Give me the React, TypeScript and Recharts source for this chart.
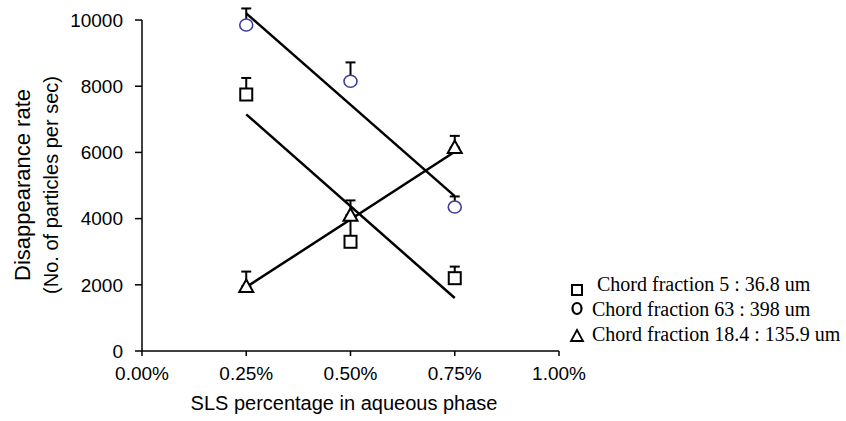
import {
  ComposedChart,
  Scatter,
  XAxis,
  YAxis,
  ErrorBar,
  ReferenceLine,
  Legend,
} from "recharts";

// SLS percentage in aqueous phase (%)
const sls = [0.25, 0.5, 0.75];

// Disappearance rate
const chord5 = [7750, 3300, 2200];
const chord5Err = [500, 700, 350];
const chord63 = [9850, 8150, 4350];
const chord63Err = [500, 570, 320];
const chord18 = [1950, 4100, 6150];
const chord18Err = [450, 450, 350];

// fitted trend lines, end points
const trendX = [0.25, 0.75];
const trend5 = [7150, 1600];
const trend63 = [10200, 4680];
const trend18 = [1930, 6020];

const xTicks = [0, 0.25, 0.5, 0.75, 1];
const yTicks = [0, 2000, 4000, 6000, 8000, 10000];

const legendNames = [
  "Chord fraction 5 : 36.8 um",
  "Chord fraction 63 : 398 um",
  "Chord fraction 18.4 : 135.9 um",
];

const BLUE = "#3d3d9e";
const SANS = "'Liberation Sans', Arial, sans-serif";
const SERIF = "'Liberation Serif', 'Times New Roman', serif";

const points = (ys: number[], errs: number[]) =>
  sls.map((x, i) => ({ x, y: ys[i], err: [0, errs[i]] }));
const trend = (ys: number[]) => trendX.map((x, i) => ({ x, y: ys[i] }));

const Square = ({ cx, cy }: any) => (
  <rect x={cx - 6} y={cy - 6} width={12} height={12} fill="#fff" stroke="#000" strokeWidth={2} />
);
const Circle = ({ cx, cy }: any) => (
  <ellipse cx={cx} cy={cy} rx={6.5} ry={6} fill="#fff" stroke={BLUE} strokeWidth={1.6} />
);
const Triangle = ({ cx, cy }: any) => (
  <path
    d={`M${cx},${cy - 7} L${cx + 7},${cy + 5.5} L${cx - 7},${cy + 5.5} Z`}
    fill="#fff"
    stroke="#000"
    strokeWidth={2}
  />
);
const NoDot = () => <g />;

function LegendBox() {
  const icons = [
    <rect x={6} y={15} width={10} height={10} fill="none" stroke="#000" strokeWidth={2} />,
    <ellipse cx={11} cy={38.5} rx={4.5} ry={5.5} fill="none" stroke="#000" strokeWidth={2.2} />,
    <path d="M11,60 L17,71 L5,71 Z" fill="none" stroke="#000" strokeWidth={1.8} />,
  ];
  const textX = [31, 26, 26];
  return (
    <svg width={280} height={80}>
      {legendNames.map((name, i) => (
        <g key={name}>
          {icons[i]}
          <text x={textX[i]} y={21 + i * 25} fontFamily={SERIF} fontSize={20} fill="#000">
            {name}
          </text>
        </g>
      ))}
    </svg>
  );
}

const series = [
  { name: legendNames[0], data: points(chord5, chord5Err), shape: Square },
  { name: legendNames[1], data: points(chord63, chord63Err), shape: Circle },
  { name: legendNames[2], data: points(chord18, chord18Err), shape: Triangle },
];

export default function App() {
  return (
    <div style={{ position: "absolute", left: 0, top: 0, width: 846, height: 421, background: "#fff" }}>
      <ComposedChart
        width={846}
        height={421}
        margin={{ top: 6.8, right: 287, bottom: 0, left: 0 }}
      >
        <XAxis
          type="number"
          dataKey="x"
          domain={[0, 1]}
          ticks={xTicks}
          tickFormatter={(v: number) => `${v.toFixed(2)}%`}
          height={70}
          tickSize={5}
          tickMargin={11}
          axisLine={{ stroke: "#000", strokeWidth: 1.5 }}
          tickLine={{ stroke: "#000", strokeWidth: 1.5 }}
          tick={{ fill: "#000", fontSize: 19, fontFamily: SANS }}
          label={{
            content: () => (
              <text x={344} y={403} textAnchor="middle" dominantBaseline="central" fontSize={20} fontFamily={SANS} fill="#000">
                SLS percentage in aqueous phase
              </text>
            ),
          }}
        />
        <YAxis
          type="number"
          dataKey="y"
          domain={[0, 10400]}
          ticks={yTicks}
          width={142}
          tickSize={7}
          tickMargin={12}
          axisLine={false}
          tickLine={{ stroke: "#000", strokeWidth: 1.5 }}
          tick={{ fill: "#000", fontSize: 19, fontFamily: SANS }}
          label={{
            content: () => (
              <g fontFamily={SANS} fill="#000">
                <text x={22} y={185} transform="rotate(-90 22 185)" textAnchor="middle" dominantBaseline="central" fontSize={22}>
                  Disappearance rate
                </text>
                <text x={51} y={185} transform="rotate(-90 51 185)" textAnchor="middle" dominantBaseline="central" fontSize={20}>
                  (No. of particles per sec)
                </text>
              </g>
            ),
          }}
        />
        <ReferenceLine
          segment={[{ x: 0, y: 0 }, { x: 0, y: 10000 }]}
          stroke="#000"
          strokeWidth={1.5}
          ifOverflow="visible"
        />

        <Scatter data={trend(trend63)} line={{ stroke: "#000", strokeWidth: 2.5 }} shape={NoDot} legendType="none" isAnimationActive={false} />
        <Scatter data={trend(trend5)} line={{ stroke: "#000", strokeWidth: 2.5 }} shape={NoDot} legendType="none" isAnimationActive={false} />
        <Scatter data={trend(trend18)} line={{ stroke: "#000", strokeWidth: 2.5 }} shape={NoDot} legendType="none" isAnimationActive={false} />

        {/* error bars first, so the markers hide the lower caps */}
        {series.map((s) => (
          <Scatter key={`err-${s.name}`} data={s.data} shape={NoDot} legendType="none" isAnimationActive={false}>
            <ErrorBar dataKey="err" direction="y" width={5} stroke="#000" strokeWidth={2} />
          </Scatter>
        ))}
        {series.map((s) => (
          <Scatter key={s.name} name={s.name} data={s.data} shape={s.shape} isAnimationActive={false} />
        ))}

        <Legend
          layout="vertical"
          align="center"
          verticalAlign="middle"
          content={() => <LegendBox />}
          wrapperStyle={{ left: 566, top: 270, width: 280, height: 80 }}
        />
      </ComposedChart>
    </div>
  );
}
